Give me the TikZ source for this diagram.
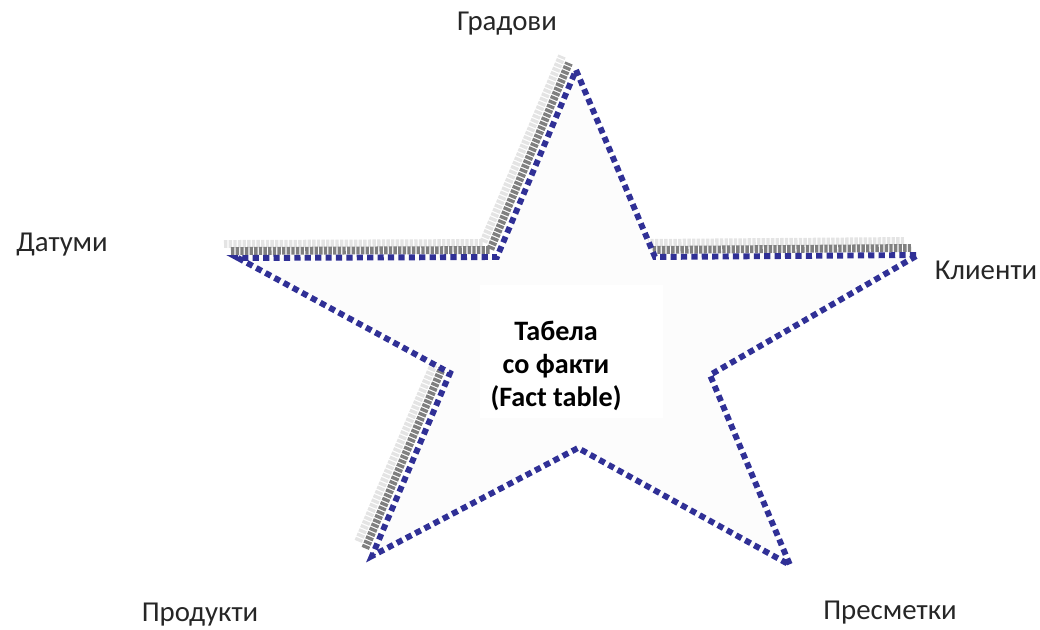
\documentclass[tikz,border=0pt]{standalone}
\usepackage{fontspec}
\setmainfont{Carlito}
\usetikzlibrary{positioning,calc}
\definecolor{rimblue}{RGB}{48,48,150}
\definecolor{shadedark}{RGB}{128,128,128}
\definecolor{shadelight}{RGB}{228,228,228}
\tikzset{
  rim/.style = {draw=rimblue, line width=4.2pt, dash pattern=on 4.4pt off 3pt},
  shade/.style = {line width=5.6pt, dash pattern=on 2.4pt off 0.9pt},
  dimlabel/.style = {font=\fontsize{20.5}{24}\selectfont, text=black!85, inner sep=0pt},
  facts/.style = {font=\fontsize{20}{23.5}\selectfont\bfseries, align=center, inner sep=0pt}
}

\begin{document}
\begin{tikzpicture}[x=0.025cm, y=-0.025cm]
\useasboundingbox (0,0) rectangle (1040,630);

% star corners
\coordinate (top) at (576,70);
\coordinate (ri)  at (655,257);
\coordinate (rt)  at (918,255);
\coordinate (rl)  at (710,375);
\coordinate (br)  at (790,565);
\coordinate (bi)  at (578,448);
\coordinate (bl)  at (372,556);
\coordinate (li)  at (450,373);
\coordinate (lt)  at (238,258);
\coordinate (ui)  at (497,257);

% shadow along the upper left edges
\foreach \d/\c in {14/shadelight, 7/shadedark} {
  \draw[shade, \c] ([shift={(-\d,-\d)}]lt) -- ([shift={(-\d,-\d)}]ui) -- ([shift={(-\d,-\d)}]top);
  \draw[shade, \c] ([shift={(-\d,-\d)}]ri) -- ([shift={(-\d,-\d)}]rt);
  \draw[shade, \c] ([shift={(-\d,-\d)}]li) -- ([shift={(-\d,-\d)}]bl);
}

% star body
\fill[black!1] (top) -- (ri) -- (rt) -- (rl) -- (br) -- (bi) -- (bl) -- (li) -- (lt) -- (ui) -- cycle;
\fill[white] (480,285) rectangle (663,418);
\draw[rim] (top) -- (ri) -- (rt) -- (rl) -- (br) -- (bi) -- (bl) -- (li) -- (lt) -- (ui) -- cycle;

\node[facts] (fact) at (556,366) {Табела\\со факти\\(Fact table)};

\node[dimlabel] (cities)   at (507,24)  {Градови};
\node[dimlabel] (dates)    at (62,245)  {Датуми};
\node[dimlabel] (clients)  at (986,270) {Клиенти};
\node[dimlabel] (products) at (200,615) {Продукти};
\node[dimlabel] (calcs)    at (890,613) {Пресметки};
\end{tikzpicture}
\end{document}
